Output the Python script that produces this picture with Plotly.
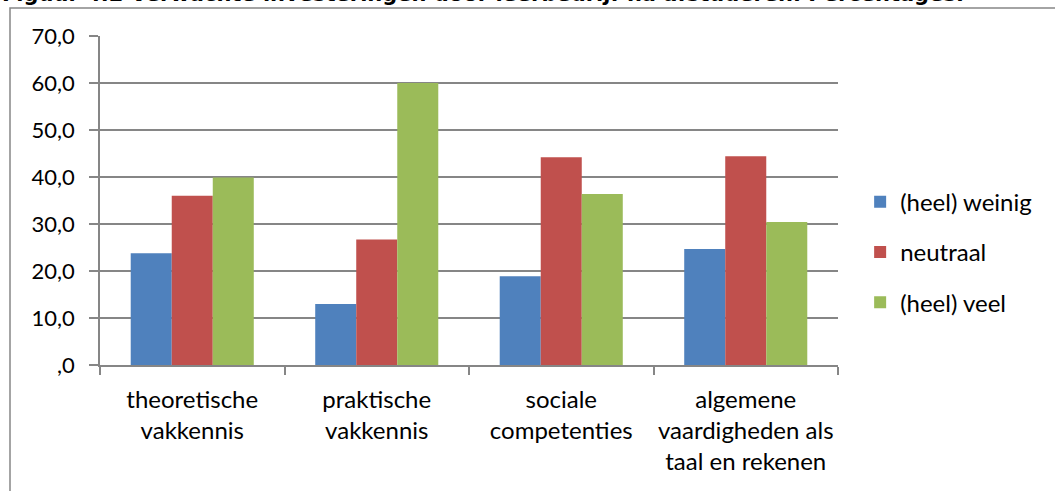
import plotly.graph_objects as go

categories = ["theoretische<br>vakkennis", "praktische<br>vakkennis", "sociale<br>competenties",
              "algemene<br>vaardigheden als<br>taal en rekenen"]
series_names = ["(heel) weinig", "neutraal", "(heel) veel"]
weinig = [23.8, 13.0, 18.9, 24.7]
neutraal = [36.0, 26.7, 44.2, 44.4]
veel = [39.9, 60.0, 36.4, 30.4]
colors = ["#4F81BD", "#C0504D", "#9BBB59"]
y_tickvals = [0, 10, 20, 30, 40, 50, 60, 70]
y_ticktext = [",0", "10,0", "20,0", "30,0", "40,0", "50,0", "60,0", "70,0"]
title_text = "Figuur 4.2 Verwachte investeringen door leerbedrijf na afstuderen. Percentages."

FONT = "Lato, sans-serif"
GRID = "#868686"

fig = go.Figure()
for i, (name, vals) in enumerate(zip(series_names, [weinig, neutraal, veel])):
    fig.add_trace(go.Bar(x=categories, y=vals, name=name, marker_color=colors[i],
                         marker_line_width=0, legendgroup=str(i)))

fig.update_layout(
    width=1055, height=491,
    margin=dict(l=100, r=217, t=36, b=126),
    paper_bgcolor="white", plot_bgcolor="white",
    barmode="group", bargap=0.333, bargroupgap=0,
    font=dict(family=FONT, size=23, color="#000000"),
    showlegend=True,
    legend=dict(x=1.03, xanchor="left", y=0.343, yanchor="middle",
                font=dict(family=FONT, size=24), tracegroupgap=16,
                traceorder="grouped", bgcolor="rgba(0,0,0,0)"),
)
fig.update_yaxes(range=[0, 70], tickvals=y_tickvals, ticktext=y_ticktext,
                 showgrid=True, gridcolor=GRID, gridwidth=1.5,
                 showline=True, linecolor=GRID, linewidth=1.5,
                 ticks="outside", ticklen=9, tickcolor=GRID, tickwidth=1.5,
                 ticklabelstandoff=10, zeroline=False, tickfont=dict(size=22))
fig.update_xaxes(showgrid=False, showline=True, linecolor=GRID, linewidth=1.5,
                 ticks="outside", tickson="boundaries", ticklen=8, tickcolor=GRID,
                 tickwidth=1.5, ticklabelstandoff=12, tickangle=0, tickfont=dict(size=24))

# chart border
fig.add_shape(type="rect", xref="paper", yref="paper",
              x0=-90/738, x1=1.6, y0=-1.0, y1=(365-8)/329,
              line=dict(color="#868686", width=1.5), fillcolor="rgba(0,0,0,0)", layer="below")

fig.add_annotation(text="<b>" + title_text + "</b>", xref="paper", yref="paper",
                   x=-100/738, xanchor="left", y=(365-8)/329, yanchor="bottom",
                   showarrow=False, font=dict(family="DejaVu Sans", size=21, color="#000000"))

fig.write_html("out.html", config={"displayModeBar": False},
               post_script="document.body.style.margin='0';document.body.style.overflow='hidden';")
